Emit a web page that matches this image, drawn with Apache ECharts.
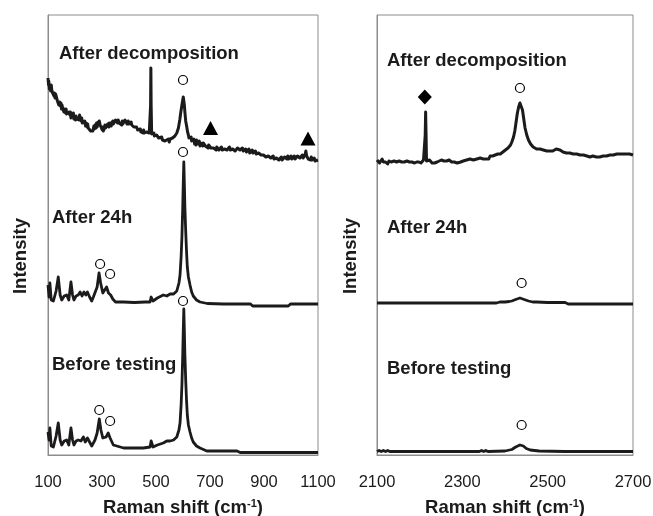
<!DOCTYPE html>
<html>
<head>
<meta charset="utf-8">
<script src="https://cdn.jsdelivr.net/npm/echarts@6/dist/echarts.min.js"></script>
<style>
html,body{margin:0;padding:0;background:#fff;}
#chart{width:653px;height:516px;}
</style>
</head>
<body>
<div id="chart"></div>
<script>
// ---- Tick labels / axis ranges ----
const leftTicks = [100, 300, 500, 700, 900, 1100];
const rightTicks = [2100, 2300, 2500, 2700];
const panelLabels = ['After decomposition', 'After 24h', 'Before testing'];
const xAxisTitle = 'Raman shift (cm{sup|-1})';
const yAxisTitle = 'Intensity';

// vertical offsets used to stack the three spectra (a.u.)
const offsetBefore = 0;
const offset24h = 150;
const offsetDecomp = 290;

// ---- Left panel spectra: [Raman shift, intensity above own baseline] ----
const leftBefore = [[100,23],[104,15],[107,27],[112,9],[120,8],[130,19],[138,32],[145,15],[151,10],[160,14],[169,15],[177,10],[185,27],[191,15],[196,10],[204,14],[212,15],[222,14],[231,18],[238,13],[246,17],[254,13],[262,9],[268,12],[274,15],[282,22],[290,36],[296,25],[303,17],[309,15],[315,18],[323,22],[330,17],[336,15],[342,10],[348,8],[380,7],[416,7],[453,7],[478,8],[482,14],[485,15],[489,8],[505,10],[527,12],[540,14],[552,14],[565,15],[577,18],[585,25],[589,32],[593,50],[596,70],[599,100],[601,125],[603,146],[605,125],[607,100],[610,75],[613,55],[616,40],[620,30],[626,23],[632,17],[638,13],[650,9],[663,7],[688,4],[720,4],[760,4],[800,4],[812,2.5],[900,2.5],[1000,2.5],[1100,2.5]];

const left24h = [[100,20],[104,8],[107,22],[112,5],[120,4],[130,14],[138,28],[145,10],[151,5],[160,9],[169,10],[177,5],[185,23],[191,10],[196,5],[204,9],[212,10],[219,13],[226,9],[233,13],[240,10],[246,13],[254,8],[262,4],[268,8],[274,10],[282,18],[289,32],[295,22],[303,12],[309,10],[317,18],[324,12],[332,10],[340,6],[350,3],[380,3],[420,2.5],[460,3],[478,3],[482,8],[485,9],[489,4],[505,7],[527,10],[540,9],[552,11],[565,11],[577,14],[585,22],[589,30],[593,48],[596,68],[599,98],[601,122],[603,143],[605,122],[607,98],[610,74],[613,54],[616,38],[620,28],[626,20],[632,13],[638,9],[650,5],[663,3],[690,1.5],[750,1],[850,1],[858,-1],[900,-1],[990,-1],[998,1],[1100,1]];

const leftDecomp = [[100,87],[102,80],[103,84],[105,76],[107,79],[110,74],[112,80],[114,75],[117,72],[120,74],[122,69],[124,72],[126,67],[128,71],[132,69],[135,64],[138,66],[140,60],[142,63],[146,59],[148,62],[150,56],[152,60],[154,57],[157,59],[159,53],[161,56],[165,52],[167,56],[169,51],[173,53],[175,49],[177,53],[181,50],[183,53],[185,47],[188,51],[190,48],[194,52],[196,46],[198,49],[202,45],[204,49],[206,46],[210,44],[212,48],[214,45],[217,50],[219,47],[223,44],[225,47],[227,42],[231,44],[233,41],[236,44],[239,39],[241,42],[245,38],[247,41],[249,37],[253,35],[256,38],[258,34],[262,32],[264,36],[266,34],[270,39],[272,36],[274,40],[278,37],[280,42],[282,38],[286,43],[288,40],[290,44],[293,40],[295,38],[297,41],[301,35],[303,38],[305,34],[309,37],[311,40],[313,37],[317,39],[319,36],[321,41],[325,38],[327,42],[329,39],[332,42],[334,39],[336,41],[340,44],[342,41],[344,43],[348,40],[350,45],[352,43],[356,46],[358,42],[360,45],[364,42],[366,40],[368,43],[373,40],[375,44],[377,41],[381,43],[383,40],[385,45],[389,43],[391,45],[393,41],[397,44],[399,41],[401,43],[406,40],[408,43],[410,40],[414,38],[416,41],[418,38],[422,39],[425,36],[428,38],[432,35],[434,37],[437,35],[442,36],[444,33],[447,35],[452,32],[454,35],[457,32],[461,33],[463,31],[465,33],[470,31],[472,34],[475,32],[478,33],[480,60],[481,97],[482,60],[484,31],[486,33],[488,30],[492,32],[494,29],[496,31],[500,28],[502,30],[505,29],[510,27],[512,29],[515,26],[521,28],[524,25],[527,26],[533,24],[536,26],[540,24],[546,26],[549,23],[552,26],[558,25],[561,27],[564,26],[570,29],[577,32],[583,37],[588,45],[592,53],[596,60],[599,65],[601,68],[603,66],[605,60],[607,53],[610,44],[614,38],[617,33],[620,30],[622,27],[624,29],[628,25],[630,28],[632,24],[636,26],[638,22],[640,26],[643,21],[645,24],[648,20],[650,25],[653,21],[655,23],[658,20],[660,24],[663,19],[665,22],[668,20],[670,23],[673,19],[675,22],[678,20],[680,23],[683,19],[685,21],[688,18],[690,21],[693,17],[695,20],[698,18],[700,20],[703,17],[705,19],[708,16],[710,19],[713,17],[715,19],[718,16],[720,18],[723,15],[725,18],[728,16],[730,18],[733,15],[736,17],[739,15],[742,18],[745,15],[748,17],[751,14],[754,16],[757,15],[760,18],[763,15],[766,17],[769,15],[772,18],[775,15],[778,16],[781,14],[784,16],[787,14],[790,17],[793,14],[796,16],[799,15],[802,17],[805,15],[808,18],[811,15],[814,16],[817,14],[820,17],[823,14],[826,15],[829,13],[832,16],[835,13],[838,15],[841,13],[844,16],[847,12],[850,14],[853,12],[856,15],[859,12],[862,13],[865,11],[868,14],[871,11],[874,13],[877,10],[880,12],[883,10],[886,13],[889,10],[892,11],[895,8],[898,10],[901,8],[904,11],[907,8],[910,10],[913,7],[916,9],[919,7],[922,10],[925,7],[928,8],[931,6],[934,9],[937,6],[940,8],[943,6],[946,7],[949,5],[952,8],[955,5],[958,7],[961,5],[964,8],[967,5],[970,7],[973,5],[976,8],[979,6],[982,7],[985,6],[988,9],[991,6],[994,8],[997,6],[1000,9],[1003,6],[1006,8],[1009,6],[1012,9],[1015,6],[1018,8],[1021,7],[1024,9],[1027,7],[1030,10],[1033,7],[1036,8],[1039,6],[1042,10],[1045,7],[1048,9],[1050,7],[1052,10],[1055,14],[1058,9],[1060,7],[1062,9],[1064,6],[1066,8],[1068,5],[1070,7],[1073,5],[1075,8],[1078,5],[1080,6],[1083,4],[1086,7],[1089,4],[1092,6],[1095,4],[1100,5]];

// ---- Right panel spectra ----
const rightBefore = [[2100,3.5],[2105,4.5],[2110,3.5],[2115,4.5],[2120,3.5],[2125,4.5],[2130,3.5],[2140,3.5],[2200,3.5],[2300,3.5],[2333,3.5],[2336,5],[2340,3.5],[2345,4.5],[2350,3.5],[2355,4.5],[2360,3.5],[2400,4],[2416,5.5],[2425,8],[2435,10],[2443,9],[2450,6.5],[2459,5],[2480,4],[2540,3.5],[2612,3.5],[2615,5],[2618,3.5],[2700,3.5]];

const right24h = [[2100,2],[2200,2],[2300,2],[2338,2],[2341,3.5],[2344,2],[2380,2],[2388,3],[2400,3],[2410,3.5],[2416,4],[2425,5.5],[2435,7],[2445,5.5],[2455,4],[2465,3],[2474,3],[2500,2.5],[2541,2.5],[2548,1],[2600,1],[2670,1],[2673,2],[2676,1],[2700,1]];

const rightDecomp = [[2100,5],[2103,5],[2106,2],[2108,4],[2112,6],[2115,3],[2118,5],[2120,3],[2125,1],[2128,4],[2130,6],[2133,3],[2135,2],[2140,4],[2143,2],[2146,3],[2149,1],[2152,4],[2155,2],[2158,3],[2161,5],[2164,3],[2167,5],[2170,4],[2173,2],[2176,3],[2179,5],[2182,3],[2185,4],[2188,2],[2191,4],[2193,3],[2196,5],[2198,3],[2201,4],[2203,2],[2206,4],[2209,5],[2211,3],[2212,4],[2213,30],[2214,53],[2215,30],[2216,4],[2218,2],[2220,3],[2223,5],[2226,3],[2229,2],[2232,4],[2235,2],[2238,4],[2241,3],[2244,2],[2246,4],[2248,3],[2251,5],[2254,3],[2257,4],[2260,2],[2263,4],[2266,3],[2269,5],[2271,4],[2275,3],[2278,5],[2281,3],[2285,4],[2288,2],[2292,4],[2296,3],[2299,5],[2302,4],[2306,3],[2310,5],[2314,4],[2318,6],[2322,4],[2326,5],[2330,4],[2334,6],[2338,5],[2342,7],[2346,5],[2349,6],[2353,8],[2356,6],[2359,8],[2362,6],[2365,9],[2368,7],[2371,9],[2373,8],[2377,10],[2380,9],[2383,11],[2386,10],[2389,11],[2392,12],[2395,13],[2398,12],[2401,15],[2404,15],[2407,17],[2410,18],[2413,20],[2416,23],[2420,28],[2423,34],[2426,43],[2429,52],[2432,58],[2435,62],[2438,60],[2441,55],[2444,46],[2447,37],[2451,30],[2455,25],[2458,23],[2460,21],[2463,20],[2466,18],[2470,17],[2474,16],[2478,15],[2482,16],[2486,14],[2490,15],[2494,13],[2498,14],[2502,13],[2505,14],[2509,12],[2512,14],[2516,15],[2520,16],[2524,14],[2529,15],[2532,13],[2536,13],[2540,11],[2544,12],[2548,10],[2552,12],[2556,10],[2560,11],[2564,9],[2568,11],[2572,9],[2576,10],[2580,8],[2584,10],[2588,8],[2592,9],[2596,7],[2599,8],[2603,7],[2606,9],[2610,7],[2614,8],[2618,6],[2622,8],[2626,7],[2630,9],[2634,7],[2638,9],[2642,8],[2646,10],[2650,8],[2654,10],[2658,9],[2662,11],[2666,9],[2670,11],[2674,9],[2678,11],[2682,10],[2685,11],[2689,9],[2692,11],[2696,10],[2700,10]];

// ---- Peak markers [x, y in stacked units] ----
const leftCircles = [[600,375],[600,303],[293,191],[330,181],[600,154],[290,45],[330,34]];
const leftTriangles = [[702,327],[1063,316.5]];
const rightCircles = [[2435,367],[2439,172],[2439,30]];
const rightDiamonds = [[2212,358]];

const ink = '#1c1a1b';
const lineW = 2.8;
const fontFam = '"Liberation Sans", Arial, sans-serif';
const boldSize = 18.5;

function stack(arr, off) { return arr.map(p => [p[0], p[1] + off]); }

function lineSeries(idx, data, w) {
  return {
    type: 'line', xAxisIndex: idx, yAxisIndex: idx, data: data,
    showSymbol: false, symbol: 'none', smooth: false, animation: false,
    lineStyle: { color: ink, width: w || lineW, join: 'round', opacity: 1 }, z: 2
  };
}
function markSeries(idx, data, symbol, size, filled) {
  return {
    type: 'scatter', xAxisIndex: idx, yAxisIndex: idx, data: data,
    symbol: symbol, symbolSize: size, animation: false, z: 5,
    itemStyle: filled ? { color: '#000', opacity: 1 } : { color: '#fff', borderColor: '#000', borderWidth: 1.2, opacity: 1 }
  };
}

const xAxisCommon = {
  type: 'value', nameLocation: 'middle', nameGap: 43,
  nameTextStyle: {
    fontFamily: fontFam, fontSize: boldSize, fontWeight: 'bold', color: ink,
    rich: { sup: { fontFamily: fontFam, fontSize: 11, fontWeight: 'bold', color: ink, verticalAlign: 'top' } }
  },
  axisLine: { show: true, lineStyle: { color: '#8c8c8c', width: 1 } },
  axisTick: { show: false },
  splitLine: { show: false },
  axisLabel: { fontFamily: fontFam, fontSize: 16.5, color: ink, margin: 19, showMinLabel: true, showMaxLabel: true,
    formatter: v => String(v) }
};
const yAxisCommon = {
  type: 'value', min: 0, max: 440,
  axisLine: { show: true, lineStyle: { color: '#8c8c8c', width: 1 } },
  axisTick: { show: false }, axisLabel: { show: false }, splitLine: { show: false }
};

const labelStyle = { fontFamily: fontFam, fontSize: boldSize, fontWeight: 'bold', fill: ink };
function txt(text, x, y) {
  return { type: 'text', x: x, y: y, style: Object.assign({ text: text, textVerticalAlign: 'middle' }, labelStyle) };
}

const chart = echarts.init(document.getElementById('chart'), null, { renderer: 'canvas' });
chart.setOption({
  backgroundColor: '#fff',
  animation: false,
  grid: [
    { left: 48, top: 15, width: 270, height: 440, show: true, borderColor: '#8c8c8c', borderWidth: 1, backgroundColor: 'transparent', containLabel: false, outerBoundsMode: 'none' },
    { left: 377, top: 15, width: 256, height: 440, show: true, borderColor: '#8c8c8c', borderWidth: 1, backgroundColor: 'transparent', containLabel: false, outerBoundsMode: 'none' }
  ],
  xAxis: [
    Object.assign({}, xAxisCommon, { gridIndex: 0, min: leftTicks[0], max: leftTicks[leftTicks.length - 1], interval: leftTicks[1] - leftTicks[0], name: xAxisTitle }),
    Object.assign({}, xAxisCommon, { gridIndex: 1, min: rightTicks[0], max: rightTicks[rightTicks.length - 1], interval: rightTicks[1] - rightTicks[0], name: xAxisTitle })
  ],
  yAxis: [
    Object.assign({}, yAxisCommon, { gridIndex: 0 }),
    Object.assign({}, yAxisCommon, { gridIndex: 1 })
  ],
  series: [
    lineSeries(0, stack(leftBefore, offsetBefore)),
    lineSeries(0, stack(left24h, offset24h)),
    lineSeries(0, stack(leftDecomp, offsetDecomp), 3),
    lineSeries(1, stack(rightBefore, offsetBefore)),
    lineSeries(1, stack(right24h, offset24h)),
    lineSeries(1, stack(rightDecomp, offsetDecomp), 3),
    markSeries(0, leftCircles, 'circle', 9, false),
    markSeries(0, leftTriangles, 'triangle', [15, 14], true),
    markSeries(1, rightCircles, 'circle', 9, false),
    markSeries(1, rightDiamonds, 'diamond', [14, 15], true)
  ],
  graphic: [
    txt(panelLabels[0], 59, 54),
    txt(panelLabels[1], 52, 218),
    txt(panelLabels[2], 52, 365),
    txt(panelLabels[0], 387, 61),
    txt(panelLabels[1], 387, 228),
    txt(panelLabels[2], 387, 369),
    { type: 'text', x: 21, y: 256, rotation: Math.PI / 2,
      style: Object.assign({ text: yAxisTitle, textAlign: 'center', textVerticalAlign: 'middle' }, labelStyle) },
    { type: 'text', x: 351, y: 256, rotation: Math.PI / 2,
      style: Object.assign({ text: yAxisTitle, textAlign: 'center', textVerticalAlign: 'middle' }, labelStyle) }
  ]
});
</script>
</body>
</html>
